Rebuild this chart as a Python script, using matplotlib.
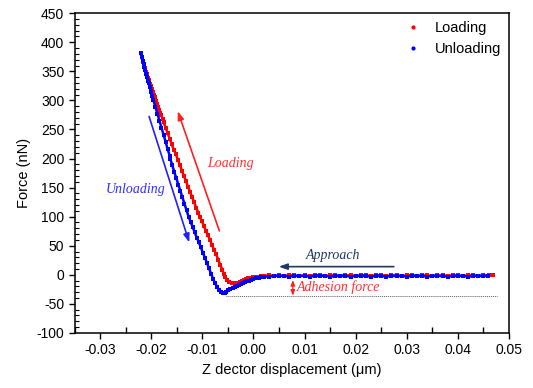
import matplotlib
matplotlib.use("Agg")
import matplotlib.pyplot as plt
from matplotlib.lines import Line2D
from matplotlib.ticker import MultipleLocator, FormatStrFormatter

plt.rcParams['font.family'] = ['Liberation Sans', 'DejaVu Sans']
plt.rcParams['axes.unicode_minus'] = False

# ---------------- data ----------------
load_x = [-0.0216, -0.0214, -0.0212, -0.0210, -0.0208, -0.0206, -0.0204, -0.0202, -0.0200, -0.0198,
          -0.0196, -0.0194, -0.0192, -0.0190, -0.0188, -0.0186, -0.0184, -0.0182, -0.0180, -0.0178,
          -0.0176, -0.0172, -0.0168, -0.0164, -0.0160, -0.0156, -0.0152, -0.0148, -0.0144,
          -0.0140, -0.0136, -0.0132, -0.0128, -0.0124, -0.0120, -0.0116, -0.0112, -0.0108, -0.0105,
          -0.0101, -0.0097, -0.0093, -0.0089, -0.0085, -0.0081, -0.0077, -0.0073, -0.0069, -0.0065,
          -0.0061, -0.0058, -0.0055, -0.0051, -0.0047, -0.0043, -0.0039, -0.0035, -0.0031, -0.0027,
          -0.0023, -0.0019, -0.0015, -0.0010, -0.0005, 0.0000, 0.0005, 0.0010, 0.0015, 0.0020,
          0.0030, 0.0040, 0.0050, 0.0060, 0.0070, 0.0080, 0.0090, 0.0100, 0.0110, 0.0120,
          0.0130, 0.0140, 0.0150, 0.0160, 0.0170, 0.0180, 0.0190, 0.0200, 0.0210, 0.0220,
          0.0230, 0.0240, 0.0250, 0.0260, 0.0270, 0.0280, 0.0290, 0.0300, 0.0310, 0.0320,
          0.0330, 0.0340, 0.0350, 0.0360, 0.0370, 0.0380, 0.0390, 0.0400, 0.0410, 0.0420,
          0.0430, 0.0440, 0.0450, 0.0460, 0.0469]
load_y = [366, 360, 355, 349, 345, 339, 335, 329, 325, 319,
          315, 309, 305, 299, 294, 289, 284, 279, 274, 268,
          263, 253, 244, 234, 225, 215, 208, 198, 189,
          179, 170, 161, 151, 143, 133, 125, 115, 107, 100,
          92, 84, 75, 68, 60, 51, 43, 35, 26, 17,
          9, 2, -4, -9, -12, -14, -15, -15, -14, -12,
          -11, -9, -7, -6, -5, -4, -3, -3, -2, -2,
          -1, -2, -1, -2, -1, -1, -2, -1, -2, -1,
          -1, -2, -1, -1, -2, -1, -1, -2, -1, -1,
          -2, -1, -1, -2, -1, -1, -2, -1, -1, -2,
          -1, -1, -2, -1, -1, -2, -1, -1, -2, -1,
          -1, -2, -1, -1, -1]

unload_x = [-0.0221, -0.0219, -0.0217, -0.0215, -0.0214, -0.0212, -0.0210, -0.0208, -0.0206, -0.0205,
            -0.0203, -0.0201, -0.0200, -0.0198, -0.0196, -0.0192, -0.0188, -0.0184, -0.0180, -0.0176,
            -0.0172, -0.0168, -0.0164, -0.0163, -0.0159, -0.0155, -0.0151, -0.0147, -0.0143, -0.0139,
            -0.0135, -0.0131, -0.0127, -0.0123, -0.0119, -0.0115, -0.0111, -0.0107, -0.0103, -0.0099,
            -0.0095, -0.0091, -0.0087, -0.0083, -0.0079, -0.0075, -0.0071, -0.0067, -0.0063, -0.0059,
            -0.0056, -0.0053, -0.0049, -0.0045, -0.0041, -0.0037, -0.0033, -0.0029, -0.0025, -0.0021,
            -0.0017, -0.0013, -0.0009, -0.0005, 0.0000, 0.0005, 0.0010, 0.0015, 0.0020, 0.0030,
            0.0040, 0.0050, 0.0060, 0.0070, 0.0080, 0.0090, 0.0100, 0.0110, 0.0120, 0.0130,
            0.0140, 0.0150, 0.0160, 0.0170, 0.0180, 0.0190, 0.0200, 0.0210, 0.0220, 0.0230,
            0.0240, 0.0250, 0.0260, 0.0270, 0.0280, 0.0290, 0.0300, 0.0310, 0.0320, 0.0330,
            0.0340, 0.0350, 0.0360, 0.0370, 0.0380, 0.0390, 0.0400, 0.0410, 0.0420, 0.0430,
            0.0440, 0.0450, 0.0459]
unload_y = [381, 374, 368, 362, 358, 352, 346, 340, 333, 330,
            323, 317, 314, 307, 301, 289, 277, 265, 253, 241,
            229, 216, 205, 200, 189, 177, 166, 155, 144, 133,
            122, 111, 100, 91, 82, 73, 64, 56, 47, 38,
            29, 20, 11, 2, -7, -15, -21, -26, -29, -31,
            -32, -30, -27, -25, -23, -21, -20, -18, -16, -14,
            -12, -11, -10, -9, -8, -6, -5, -4, -3, -3,
            -2, -2, -2, -3, -2, -2, -2, -3, -2, -2,
            -2, -3, -2, -2, -2, -3, -2, -2, -2, -3,
            -2, -2, -3, -2, -2, -2, -3, -2, -2, -2,
            -3, -2, -2, -2, -3, -2, -2, -2, -3, -2,
            -2, -2, -2]

series_labels = ["Loading", "Unloading"]
series_colors = ["#ff0000", "#0000ff"]

adhesion_level = -36
adhesion_x = [-0.0054, 0.0476]

# ---------------- figure ----------------
fig = plt.figure(figsize=(5.33, 3.88), dpi=100)
ax = fig.add_axes([0.140, 0.142, 0.815, 0.824])

ax.plot(load_x, load_y, color=series_colors[0], lw=1.8, marker='s', ms=2.2, mew=0)
ax.plot(unload_x, unload_y, color=series_colors[1], lw=1.8, marker='s', ms=2.2, mew=0)

ax.plot(adhesion_x, [adhesion_level, adhesion_level], color='#606060', lw=0.7, ls=(0, (1, 1)))

ax.set_xlim(-0.035, 0.05)
ax.set_ylim(-100, 450)
ax.xaxis.set_major_locator(MultipleLocator(0.01))
ax.xaxis.set_minor_locator(MultipleLocator(0.005))
ax.yaxis.set_major_locator(MultipleLocator(50))
ax.yaxis.set_minor_locator(MultipleLocator(10))
ax.xaxis.set_major_formatter(FormatStrFormatter('%.2f'))
ax.tick_params(which='major', direction='out', length=4, width=1, labelsize=10, colors='black')
ax.tick_params(axis='x', which='minor', direction='in', length=4, width=1)
ax.tick_params(axis='y', which='minor', direction='in', length=3, width=0.8)
for s in ax.spines.values():
    s.set_linewidth(1.1)

ax.set_xlabel("Z dector displacement (\u03bcm)", fontsize=10.5, labelpad=4)
ax.set_ylabel("Force (nN)", fontsize=10.5, labelpad=4)

# annotations
serif = ['Liberation Serif', 'DejaVu Serif']
ax.annotate("", xy=(-0.0150, 286), xytext=(-0.0065, 71),
            arrowprops=dict(arrowstyle='-|>,head_length=0.5,head_width=0.18', color='#ff2020', lw=1.2))
ax.text(-0.0045, 192, "Loading", color='#ff3030', fontsize=10, style='italic', family=serif,
        ha='center', va='center')
ax.annotate("", xy=(-0.0124, 51), xytext=(-0.0206, 277),
            arrowprops=dict(arrowstyle='-|>,head_length=0.5,head_width=0.18', color='#2020ff', lw=1.2))
ax.text(-0.0230, 146, "Unloading", color='#3030ff', fontsize=10, style='italic', family=serif,
        ha='center', va='center')
ax.annotate("", xy=(0.0044, 14), xytext=(0.0280, 14),
            arrowprops=dict(arrowstyle='-|>,head_length=0.5,head_width=0.18', color='#1f3864', lw=1.2))
ax.text(0.0156, 34, "Approach", color='#1f3864', fontsize=10, style='italic', family=serif,
        ha='center', va='center')
ax.annotate("", xy=(0.0077, -36), xytext=(0.0077, -9),
            arrowprops=dict(arrowstyle='<|-|>,head_length=0.3,head_width=0.12', color='#ff2020', lw=1.0,
                            shrinkA=0, shrinkB=0))
ax.text(0.0085, -21, "Adhesion force", color='#ff3030', fontsize=10, style='italic', family=serif,
        ha='left', va='center')

handles = [Line2D([], [], color=c, marker='o', ms=2, ls='') for c in series_colors]
ax.legend(handles, series_labels, loc='upper right', bbox_to_anchor=(1.0, 1.0), frameon=False,
          fontsize=10.5, handlelength=1.0, handletextpad=1.0, labelspacing=0.45,
          borderaxespad=0.15)

fig.savefig("out.png", dpi=100)
